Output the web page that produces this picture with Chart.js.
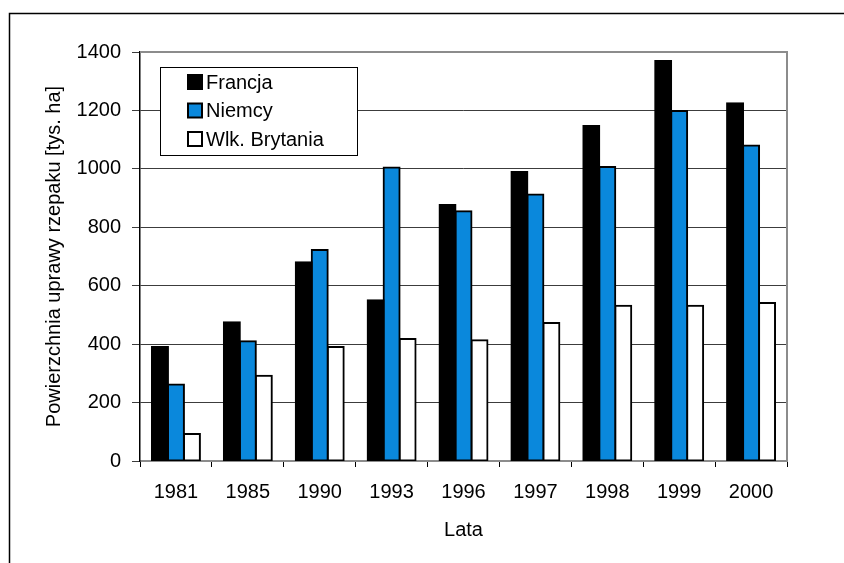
<!DOCTYPE html>
<html>
<head>
<meta charset="utf-8">
<script src="https://cdn.jsdelivr.net/npm/chart.js@4/dist/chart.umd.min.js"></script>
<style>
  html, body { margin: 0; padding: 0; background: #fff; }
  #wrap { position: relative; width: 844px; height: 563px; }
</style>
</head>
<body>
<div id="wrap"><canvas id="c" width="844" height="563"></canvas></div>
<script>
const years = ['1981', '1985', '1990', '1993', '1996', '1997', '1998', '1999', '2000'];
const francja = [390, 475, 680, 550, 876, 989, 1147, 1369, 1225];
const niemcy = [262, 410, 722, 1005, 855, 912, 1006, 1198, 1080];
const wielkaBrytania = [92, 292, 390, 418, 413, 472, 531, 531, 541];
const yTicks = [0, 200, 400, 600, 800, 1000, 1200, 1400];

const FONT = "'Liberation Sans', Arial, sans-serif";
const FS = 20;

// Outer frame and the grey top/right edges of the plot area
const framePlugin = {
  id: 'frame',
  afterDraw(chart) {
    const ctx = chart.ctx;
    const a = chart.chartArea;
    ctx.save();
    ctx.strokeStyle = '#000';
    ctx.lineWidth = 1.5;
    ctx.beginPath();
    ctx.moveTo(9.5, 600);
    ctx.lineTo(9.5, 13.5);
    ctx.lineTo(860, 13.5);
    ctx.stroke();
    ctx.strokeStyle = '#8c8c8c';
    ctx.lineWidth = 2;
    ctx.beginPath();
    ctx.moveTo(a.left, a.top);
    ctx.lineTo(a.right, a.top);
    ctx.lineTo(a.right, a.bottom);
    ctx.stroke();
    ctx.restore();
  }
};

// Boxed legend drawn inside the plot area
const boxLegend = {
  id: 'boxLegend',
  afterDraw(chart) {
    const ctx = chart.ctx;
    const bx = 160.5, by = 67.5, bw = 197, bh = 88;
    ctx.save();
    ctx.fillStyle = '#fff';
    ctx.fillRect(bx, by, bw, bh);
    ctx.strokeStyle = '#000';
    ctx.lineWidth = 1;
    ctx.strokeRect(bx, by, bw, bh);
    ctx.font = FS + 'px ' + FONT;
    ctx.textBaseline = 'middle';
    chart.data.datasets.forEach((ds, i) => {
      const cy = 82 + i * 28.5;
      ctx.fillStyle = ds.backgroundColor;
      ctx.fillRect(188, cy - 7, 14, 14);
      ctx.strokeStyle = '#000';
      ctx.lineWidth = 2;
      ctx.strokeRect(188, cy - 7, 14, 14);
      ctx.fillStyle = '#000';
      ctx.fillText(ds.label, 206, cy + 1);
    });
    ctx.restore();
  }
};

new Chart(document.getElementById('c'), {
  type: 'bar',
  data: {
    labels: years,
    datasets: [
      { label: 'Francja', data: francja, backgroundColor: '#000000' },
      { label: 'Niemcy', data: niemcy, backgroundColor: '#0a88dc' },
      { label: 'Wlk. Brytania', data: wielkaBrytania, backgroundColor: '#ffffff' }
    ]
  },
  options: {
    responsive: false,
    animation: false,
    layout: { padding: { left: 10, top: 52, right: 57, bottom: 0 } },
    datasets: {
      bar: {
        borderColor: '#000',
        borderWidth: 2,
        borderSkipped: false,
        inflateAmount: 1,
        categoryPercentage: 0.667,
        barPercentage: 1.0
      }
    },
    plugins: {
      legend: { display: false },
      tooltip: { enabled: false }
    },
    scales: {
      x: {
        offset: true,
        grid: {
          offset: true,
          drawOnChartArea: false,
          drawTicks: true,
          tickLength: 6,
          color: '#000'
        },
        border: { color: '#8c8c8c', width: 2 },
        ticks: { color: '#000', font: { family: FONT, size: FS }, padding: 13, maxRotation: 0 },
        title: {
          display: true, text: 'Lata', color: '#000',
          font: { family: FONT, size: FS }, padding: { top: 10, bottom: 21 }
        },
        afterFit(scale) { scale.height = 102; }
      },
      y: {
        min: 0, max: 1400,
        afterBuildTicks(scale) { scale.ticks = yTicks.map(v => ({ value: v })); },
        grid: { color: '#3c3c3c', lineWidth: 1, tickLength: 8, drawTicks: true },
        border: { color: '#000', width: 1.5 },
        ticks: {
          color: '#000', font: { family: FONT, size: FS }, padding: 11,
          callback: v => String(v)
        },
        title: {
          display: true, text: 'Powierzchnia uprawy rzepaku [tys. ha]', color: '#000',
          font: { family: FONT, size: FS }, padding: { top: 32, bottom: 0 }
        },
        afterFit(scale) { scale.width = 130; }
      }
    }
  },
  plugins: [framePlugin, boxLegend]
});
</script>
</body>
</html>
